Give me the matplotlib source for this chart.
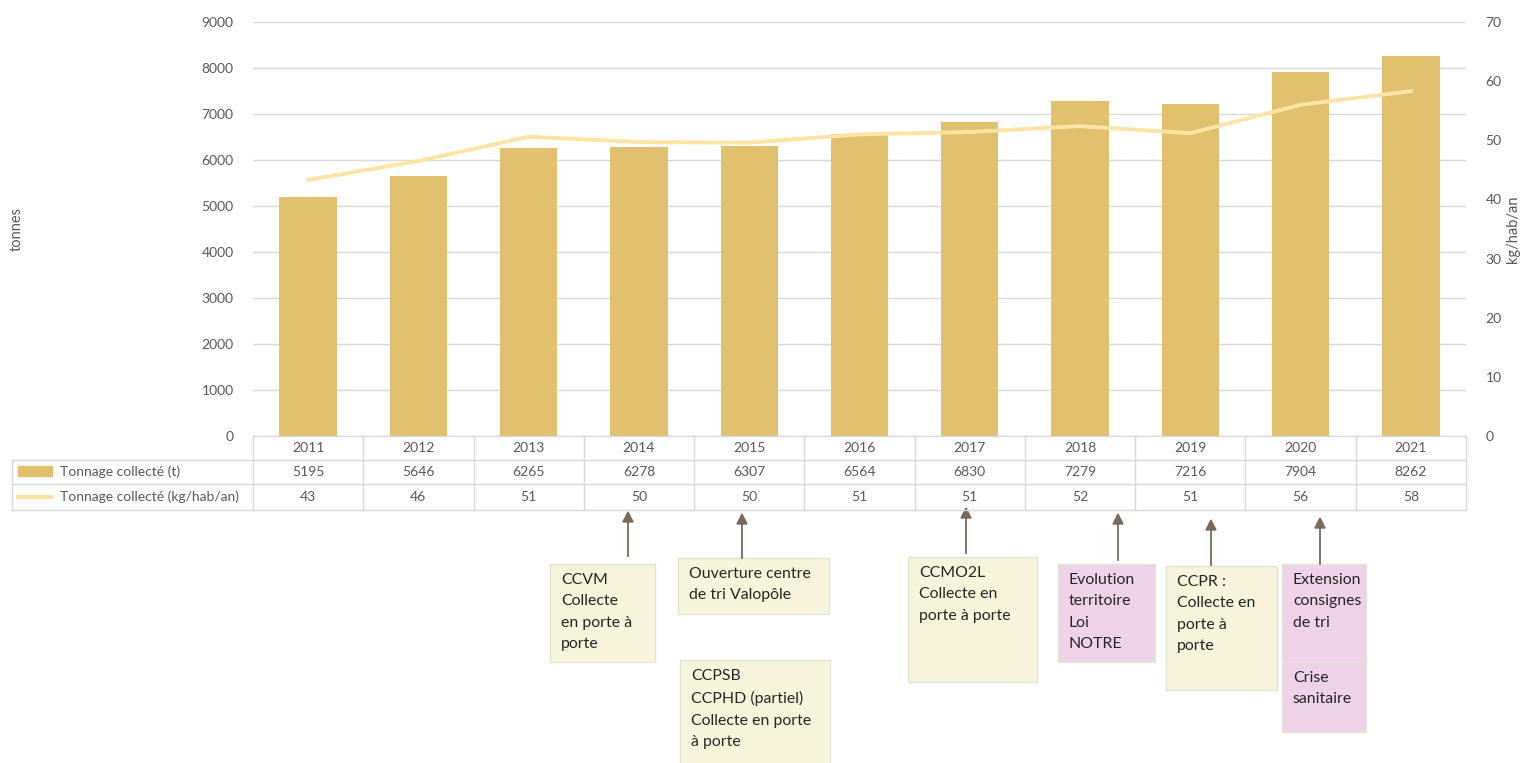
import numpy as np
import matplotlib.pyplot as plt
from matplotlib.patches import Rectangle
from matplotlib.lines import Line2D

plt.rcParams['font.family'] = ['Lato', 'DejaVu Sans']

years = ['2011', '2012', '2013', '2014', '2015', '2016', '2017', '2018', '2019', '2020', '2021']
tonnage = [5195, 5646, 6265, 6278, 6307, 6564, 6830, 7279, 7216, 7904, 8262]
kg_hab = [43.3, 46.5, 50.6, 49.7, 49.6, 51.0, 51.4, 52.4, 51.2, 56.0, 58.3]

bar_label = 'Tonnage collecté (t)'
line_label = 'Tonnage collecté (kg/hab/an)'

# notes below the table: (text, box px [x0, y0, x1, y1], colour, arrow x, arrow top, arrow bottom)
notes = [
    ('CCVM\nCollecte\nen porte à\nporte', (550, 564, 655, 662), 'y', 628, 512, 556),
    ('Ouverture centre\nde tri Valopôle', (678, 558, 829, 614), 'y', 742, 514, 558),
    ('CCPSB\nCCPHD (partiel)\nCollecte en porte\nà porte', (680, 660, 830, 770), 'y', None, None, None),
    ('CCMO2L\nCollecte en\nporte à porte', (908, 557, 1037, 682), 'y', 966, 508, 553),
    ('Evolution\nterritoire\nLoi\nNOTRE', (1058, 564, 1155, 662), 'p', 1118, 514, 560),
    ('CCPR :\nCollecte en\nporte à\nporte', (1166, 566, 1277, 690), 'y', 1211, 520, 565),
    ('Extension\nconsignes\nde tri', (1282, 564, 1366, 662), 'p', 1320, 518, 564),
    ('Crise\nsanitaire', (1282, 662, 1366, 732), 'p', None, None, None),
]

W, H = 1522, 763
fig = plt.figure(figsize=(W / 100, H / 100), dpi=100)

def fx(x):
    return x / W

def fy(y):
    return 1 - y / H

L, R, T, B = 253, 1466, 22, 436
ax = fig.add_axes([fx(L), fy(B), fx(R) - fx(L), fy(T) - fy(B)])
ax2 = ax.twinx()

txt = '#595959'
grid = '#D9D9D9'
bar_c = '#E1C16E'
line_c = '#FFE4A6'

x = np.arange(len(years))
ax.bar(x, tonnage, width=0.52, color=bar_c, zorder=2)
ax2.plot(x, kg_hab, color=line_c, lw=2.8, zorder=3)

ax.set_xlim(-0.5, len(years) - 0.5)
ax.set_ylim(0, 9000)
ax.set_yticks(np.arange(0, 9001, 1000))
ax2.set_ylim(0, 70)
ax2.set_yticks(np.arange(0, 71, 10))
ax.yaxis.grid(True, color=grid, lw=1, zorder=0)
ax.set_axisbelow(True)
ax.set_xticks([])
for a in (ax, ax2):
    for s in a.spines.values():
        s.set_visible(False)
    a.tick_params(axis='y', length=0, labelsize=10, labelcolor=txt, pad=14)

aw = fx(R) - fx(L)
ax.set_ylabel('tonnes', color=txt, fontsize=10.5)
ax.yaxis.set_label_coords(fx(24 - L) / aw, 0.5)
ax2.set_ylabel('kg/hab/an', color=txt, fontsize=10.5)
ax2.yaxis.set_label_coords(fx(1506 - L) / aw, 0.5)

# data table
rows_y = [436, 460, 484, 510]
col_w = (R - L) / len(years)
tl = '#D9D9D9'
fig.add_artist(Line2D([fx(L), fx(R)], [fy(436), fy(436)], color=tl, lw=1))
for yy in rows_y[1:]:
    fig.add_artist(Line2D([fx(12), fx(R)], [fy(yy), fy(yy)], color=tl, lw=1))
fig.add_artist(Line2D([fx(12), fx(12)], [fy(460), fy(510)], color=tl, lw=1))
for i in range(len(years) + 1):
    xx = L + i * col_w
    fig.add_artist(Line2D([fx(xx), fx(xx)], [fy(436), fy(510)], color=tl, lw=1))

for i in range(len(years)):
    cx = fx(L + (i + 0.5) * col_w)
    fig.text(cx, fy(448), years[i], ha='center', va='center', fontsize=10, color=txt)
    fig.text(cx, fy(472), str(tonnage[i]), ha='center', va='center', fontsize=10, color=txt)
    fig.text(cx, fy(497), f'{kg_hab[i]:.0f}', ha='center', va='center', fontsize=10, color=txt)

fig.add_artist(Rectangle((fx(18), fy(476)), fx(52) - fx(18), fy(466) - fy(476), color=bar_c))
fig.add_artist(Line2D([fx(18), fx(52)], [fy(497), fy(497)], color=line_c, lw=2.8))
fig.text(fx(60), fy(472), bar_label, ha='left', va='center', fontsize=10, color=txt)
fig.text(fx(60), fy(497), line_label, ha='left', va='center', fontsize=10, color=txt)

# notes
fills = {'y': '#F6F5DB', 'p': '#EED3E8'}
for label, (x0, y0, x1, y1), c, axx, atop, abot in notes:
    fig.add_artist(Rectangle((fx(x0), fy(y1)), fx(x1) - fx(x0), fy(y0) - fy(y1),
                             facecolor=fills[c], edgecolor='#E3E3D6', lw=1))
    fig.text(fx(x0 + 11), fy(y0 + 9), label, ha='left', va='top', fontsize=11.4,
             color='#262626', linespacing=1.68)
    if axx is not None:
        fig.add_artist(plt.Line2D([fx(axx), fx(axx)], [fy(abot), fy(atop + 6)],
                                  color='#7A6A5B', lw=1.3))
        fig.patches.append(plt.Polygon([[fx(axx - 5), fy(atop + 10)], [fx(axx + 5), fy(atop + 10)],
                                        [fx(axx), fy(atop)]], closed=True, color='#7A6A5B',
                                       transform=fig.transFigure, figure=fig))

fig.savefig('out.png', dpi=100)
